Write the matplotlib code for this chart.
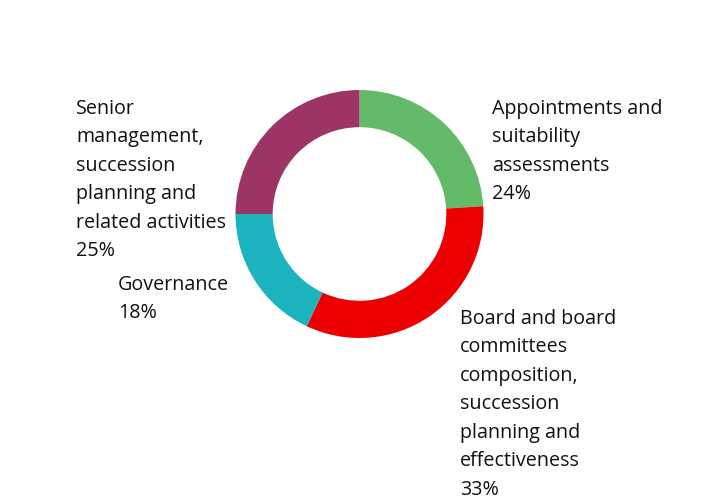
import matplotlib
matplotlib.use("Agg")
import matplotlib.pyplot as plt

categories = ["Appointments and\nsuitability\nassessments",
              "Board and board\ncommittees\ncomposition,\nsuccession\nplanning and\neffectiveness",
              "Governance",
              "Senior\nmanagement,\nsuccession\nplanning and\nrelated activities"]
values = [24, 33, 18, 25]
colors = ["#63BB6A", "#EC0000", "#1BB4BE", "#9C3566"]

plt.rcParams['font.family'] = ['Open Sans', 'DejaVu Sans']

W, H = 720, 500
fig = plt.figure(figsize=(7.2, 5.0), dpi=100)
cx, cy, r = 359.5, 214, 124
ax = fig.add_axes([(cx - r) / W, 1 - (cy + r) / H, 2 * r / W, 2 * r / H])
ax.pie(values, colors=colors, startangle=90, counterclock=False,
       radius=1.0, wedgeprops=dict(width=0.30, edgecolor='none'))
ax.set_xlim(-1, 1)
ax.set_ylim(-1, 1)
ax.set_aspect('equal')
ax.axis('off')

label_pos = [(492, 99), (460, 309), (118, 275), (76, 99)]
for cat, v, (x, y) in zip(categories, values, label_pos):
    fig.text(x / W, 1 - y / H, f"{cat}\n{v}%", ha='left', va='top',
             fontsize=14.2, color='#111111', linespacing=1.565)

fig.savefig("out.png", dpi=100)
